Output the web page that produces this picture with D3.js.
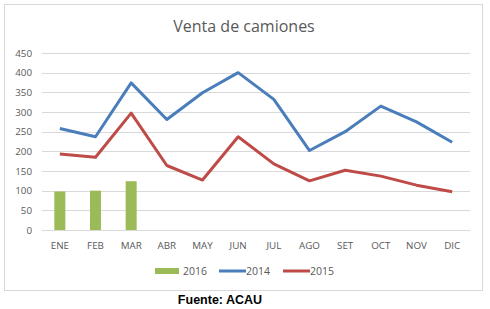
<!DOCTYPE html>
<meta charset="UTF-8">
<html>
<head>
	<title>Venta de camiones</title>
	<script src="https://d3js.org/d3.v7.min.js"></script>
	<style>
		body { margin: 0; background: #fff; }
		text { font-family: "Open Sans", "DejaVu Sans", sans-serif; }
	</style>
</head>
<body>
	<svg id="chart" width="490" height="309"></svg>
	<script>
		// data
		var months = ["ENE","FEB","MAR","ABR","MAY","JUN","JUL","AGO","SET","OCT","NOV","DIC"];
		var ventas2014 = [258, 237, 374, 281, 349, 400, 332, 202, 250, 315, 275, 223];
		var ventas2015 = [193, 185, 297, 164, 127, 237, 168, 125, 152, 137, 114, 97];
		var ventas2016 = [98, 100, 124];
		var yTicks = [0, 50, 100, 150, 200, 250, 300, 350, 400, 450];

		var svg = d3.select("#chart");

		// chart border
		svg.append("rect")
			.attr("x", 4.5).attr("y", 4.5)
			.attr("width", 478).attr("height", 286)
			.style("fill", "#fff")
			.style("stroke", "#d9d9d9");

		var x = d3.scaleBand()
			.domain(months)
			.range([42, 470]);
		var y = d3.scaleLinear()
			.domain([0, 450])
			.range([230, 53]);

		svg.append("text")
			.attr("x", 244).attr("y", 32)
			.attr("text-anchor", "middle")
			.style("font-size", "16px")
			.style("fill", "#595959")
			.text("Venta de camiones");

		// grid lines
		svg.selectAll(".grid")
			.data(yTicks)
			.enter()
			.append("line")
				.attr("x1", 42).attr("x2", 470)
				.attr("y1", function(d){ return Math.round(y(d)) + 0.5; })
				.attr("y2", function(d){ return Math.round(y(d)) + 0.5; })
				.style("stroke", "#d9d9d9")
				.style("stroke-width", 1);

		// y axis labels
		var yAxis = d3.axisLeft(y).tickValues(yTicks).tickSize(0).tickPadding(10);
		var gy = svg.append("g").attr("transform", "translate(42,0)").call(yAxis);
		gy.select(".domain").remove();
		gy.selectAll("text")
			.style("font-family", "'Open Sans', sans-serif")
			.style("font-size", "9.8px")
			.style("fill", "#595959");

		// x axis labels
		var xAxis = d3.axisBottom(x).tickSize(0).tickPadding(12);
		var gx = svg.append("g").attr("transform", "translate(0,230)").call(xAxis);
		gx.select(".domain").remove();
		gx.selectAll("text")
			.style("font-family", "'Open Sans', sans-serif")
			.style("font-size", "9.8px")
			.style("fill", "#595959");

		// 2016 bars
		var barW = 11;
		svg.selectAll(".bar")
			.data(ventas2016)
			.enter()
			.append("rect")
				.attr("x", function(d, i){ return x(months[i]) + x.bandwidth()/2 - barW/2; })
				.attr("y", function(d){ return y(d); })
				.attr("width", barW)
				.attr("height", function(d){ return y(0) - y(d); })
				.style("fill", "#9bbb59");

		var line = d3.line()
			.x(function(d, i){ return x(months[i]) + x.bandwidth()/2; })
			.y(function(d){ return y(d); });

		svg.append("path")
			.datum(ventas2014)
			.attr("d", line)
			.style("fill", "none")
			.style("stroke", "#4a7ebb")
			.style("stroke-width", 3)
			.style("stroke-linejoin", "round");

		svg.append("path")
			.datum(ventas2015)
			.attr("d", line)
			.style("fill", "none")
			.style("stroke", "#be4b48")
			.style("stroke-width", 3)
			.style("stroke-linejoin", "round");

		// legend
		var legend = [
			{name: "2016", color: "#9bbb59", type: "bar", x: 155},
			{name: "2014", color: "#4a7ebb", type: "line", x: 219},
			{name: "2015", color: "#be4b48", type: "line", x: 283}
		];
		var lg = svg.selectAll(".legend")
			.data(legend)
			.enter()
			.append("g")
				.attr("transform", function(d){ return "translate(" + d.x + ",271)"; });
		lg.append("rect")
			.attr("x", 0)
			.attr("y", function(d){ return d.type == "bar" ? -3 : -1.5; })
			.attr("width", function(d){ return d.type == "bar" ? 24 : 27; })
			.attr("height", function(d){ return d.type == "bar" ? 6 : 3; })
			.style("fill", function(d){ return d.color; });
		lg.append("text")
			.attr("x", function(d){ return d.type == "bar" ? 28 : 27; })
			.attr("y", 4)
			.style("font-size", "10.5px")
			.style("fill", "#595959")
			.text(function(d){ return d.name; });

		svg.append("text")
			.attr("x", 220).attr("y", 304)
			.attr("text-anchor", "middle")
			.style("font-family", "'Liberation Sans', Arial, sans-serif")
			.style("font-weight", "bold")
			.style("font-size", "12.5px")
			.style("fill", "#000")
			.text("Fuente: ACAU");
	</script>
</body>
</html>
